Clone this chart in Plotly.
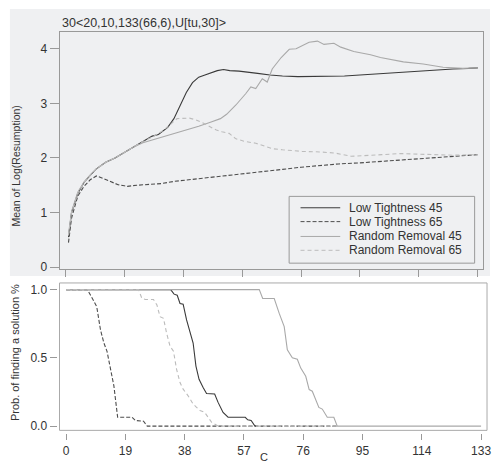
import plotly.graph_objects as go

W, H = 494, 470

# ---------------- data ----------------
title_text = "30<20,10,133(66,6),U[tu,30]>"
series_names = ["Low Tightness 45", "Low Tightness 65", "Random Removal 45", "Random Removal 65"]
x_ticks = [0, 19, 38, 57, 76, 95, 114, 133]

# top panel: Mean of Log(Resumption)
lt45_x = [1, 2, 4, 6, 8, 10, 13, 16, 19, 22, 24, 26, 28, 30, 31, 33, 35, 37, 39, 41, 43, 45, 47, 49, 51, 53,
          56, 58, 62, 66, 70, 75, 80, 85, 90, 95, 100, 105, 110, 115, 120, 125, 130, 133]
lt45_y = [0.55, 1.0, 1.35, 1.55, 1.68, 1.8, 1.92, 2.0, 2.1, 2.2, 2.27, 2.33, 2.4, 2.43, 2.47, 2.56, 2.72, 2.95,
          3.2, 3.38, 3.48, 3.52, 3.56, 3.6, 3.62, 3.6, 3.59, 3.58, 3.55, 3.52, 3.5, 3.49, 3.49, 3.5, 3.5, 3.52,
          3.54, 3.56, 3.58, 3.6, 3.61, 3.63, 3.64, 3.65]

lt65_x = [1, 2, 4, 6, 8, 10, 11, 13, 15, 17, 19, 20, 23, 27, 31, 35, 40, 45, 50, 55, 60, 65, 70, 76, 82, 88,
          95, 100, 106, 112, 118, 124, 129, 133]
lt65_y = [0.45, 0.9, 1.3, 1.48, 1.6, 1.67, 1.65, 1.6, 1.55, 1.51, 1.49, 1.48, 1.5, 1.51, 1.53, 1.57, 1.6, 1.63,
          1.67, 1.7, 1.72, 1.76, 1.79, 1.83, 1.86, 1.89, 1.91, 1.93, 1.95, 1.97, 2.0, 2.02, 2.04, 2.06]

rr45_x = [1, 2, 4, 6, 8, 10, 13, 16, 19, 22, 25, 28, 31, 35, 39, 43, 47, 50, 52, 55, 58.2, 59.8, 61.4, 63.5,
          65.1, 66.7, 69.6, 72.2, 74.4, 77, 78.6, 81.3, 83.4, 86.6, 88.8, 93, 98.4, 101.6, 109, 115.4, 121.8,
          128.2, 133]
rr45_y = [0.6, 1.02, 1.37, 1.56, 1.69, 1.8, 1.92, 2.0, 2.1, 2.2, 2.28, 2.33, 2.38, 2.44, 2.5, 2.58, 2.66,
          2.72, 2.8, 2.97, 3.18, 3.3, 3.27, 3.45, 3.39, 3.63, 3.84, 3.99, 4.0, 4.08, 4.12, 4.14, 4.08, 4.1,
          4.03, 3.95, 3.89, 3.84, 3.76, 3.72, 3.66, 3.64, 3.65]

rr65_x = [1, 2, 4, 6, 8, 10, 13, 16, 19, 22, 25, 28, 31.7, 34, 36, 40, 42, 44.4, 46.5, 48.7, 50.5, 52.8, 55,
          58, 61.4, 64, 66.7, 70, 76.3, 82, 86.9, 92.2, 97, 102, 108, 113, 118.7, 125, 133]
rr65_y = [0.58, 1.0, 1.36, 1.55, 1.68, 1.8, 1.92, 2.0, 2.1, 2.2, 2.3, 2.38, 2.51, 2.62, 2.72, 2.73, 2.7,
          2.64, 2.57, 2.51, 2.48, 2.45, 2.35, 2.3, 2.27, 2.22, 2.17, 2.15, 2.12, 2.11, 2.09, 2.03, 2.04, 2.06,
          2.08, 2.07, 2.06, 2.05, 2.06]

# bottom panel: Prob. of finding a solution
p_lt45_x = [0, 33.5, 34.6, 35.6, 36.5, 37.5, 38.6, 39.7, 40.7, 41.6, 42.6, 43.9, 45, 47.6, 48.7, 50.3, 51.9,
            57.4, 58.2, 59.3, 60.4, 60.9]
p_lt45_y = [1, 1, 0.967, 0.959, 0.899, 0.894, 0.778, 0.681, 0.609, 0.44, 0.343, 0.283, 0.239, 0.235, 0.174,
            0.1, 0.065, 0.065, 0.046, 0.041, 0.005, 0]

p_lt65_x = [0, 6.8, 8.4, 9.8, 11.0, 12.1, 13.1, 14.2, 15.3, 16.5, 21.1, 22.2, 24.8, 26.0, 87]
p_lt65_y = [1, 1, 0.935, 0.875, 0.706, 0.609, 0.548, 0.416, 0.295, 0.065, 0.065, 0.041, 0.036, 0, 0]

p_rr45_x = [0, 61.9, 63, 66.7, 68.3, 69.9, 70.9, 72.5, 74.1, 75.2, 76.8, 77.9, 78.9, 81.0, 82.1, 83.7, 85.8,
            86.9, 133]
p_rr45_y = [1, 1, 0.935, 0.935, 0.826, 0.729, 0.56, 0.5, 0.49, 0.425, 0.365, 0.268, 0.256, 0.137, 0.125,
            0.065, 0.065, 0, 0]

p_rr65_x = [0, 23.2, 24.3, 25.4, 28, 29.1, 30.1, 31.2, 32.2, 33.3, 34.4, 35.4, 36.5, 37.5, 39.1, 40.7, 41.8,
            42.9, 44.4, 46.6, 48.7, 87]
p_rr65_y = [1, 1, 0.935, 0.928, 0.928, 0.887, 0.802, 0.79, 0.681, 0.585, 0.549, 0.416, 0.319, 0.271, 0.222,
            0.162, 0.138, 0.114, 0.101, 0.029, 0, 0]

# ---------------- styles ----------------
FONT = "Liberation Sans, Arial, Helvetica, sans-serif"
styles = [
    dict(color="#3a3a3a", width=1.1, dash="solid"),
    dict(color="#4d4d4d", width=1.1, dash="4px,2px"),
    dict(color="#a9a9a9", width=1.1, dash="solid"),
    dict(color="#bcbcbc", width=1.1, dash="4px,3px"),
]

top_data = [(lt45_x, lt45_y), (lt65_x, lt65_y), (rr45_x, rr45_y), (rr65_x, rr65_y)]
bot_data = [(p_lt45_x, p_lt45_y), (p_lt65_x, p_lt65_y), (p_rr45_x, p_rr45_y), (p_rr65_x, p_rr65_y)]

fig = go.Figure()
for name, (xs, ys), st in zip(series_names, top_data, styles):
    fig.add_trace(go.Scatter(x=xs, y=ys, mode="lines", name=name, line=st,
                             xaxis="x", yaxis="y", showlegend=False))
for name, (xs, ys), st in zip(series_names, bot_data, styles):
    fig.add_trace(go.Scatter(x=xs, y=ys, mode="lines", name=name, line=st,
                             xaxis="x2", yaxis="y2", showlegend=False))

def px(x):
    return x / W

def py(y):
    return 1 - y / H

tickfont = dict(family=FONT, size=12, color="#333333")
axcol = "#999999"

shapes = [
    # grey panel behind the top chart
    dict(type="rect", xref="paper", yref="paper", x0=px(10), x1=1, y0=py(279), y1=py(9),
         fillcolor="#eff0f2", line=dict(width=0), layer="below"),
    # box around the bottom chart
    dict(type="rect", xref="x2 domain", yref="y2 domain", x0=0, x1=1, y0=0, y1=1,
         line=dict(color="#aaaaaa", width=1)),
    # legend box
    dict(type="rect", xref="paper", yref="paper", x0=px(291.5), x1=px(478.5), y0=py(266), y1=py(198.5),
         line=dict(color="#9a9a9a", width=1)),
]
annotations = [
    dict(text=title_text, xref="paper", yref="paper", x=px(60), y=py(23.5), xanchor="left",
         yanchor="middle", showarrow=False, font=dict(family=FONT, size=12.5, color="#333333")),
    dict(text="Mean of Log(Resumption)", xref="paper", yref="paper", x=px(16.5), y=py(168),
         textangle=-90, showarrow=False, xanchor="center", yanchor="middle",
         font=dict(family=FONT, size=10.5, color="#333333")),
    dict(text="Prob. of finding a solution %", xref="paper", yref="paper", x=px(15), y=py(356),
         textangle=-90, showarrow=False, xanchor="center", yanchor="middle",
         font=dict(family=FONT, size=11, color="#333333")),
    dict(text="C", xref="paper", yref="paper", x=px(266.5), y=0, xanchor="center",
         yanchor="bottom", showarrow=False, font=dict(family=FONT, size=11, color="#333333")),
]

# manual legend
leg_y = [210, 224, 239, 253]
for name, st, ly in zip(series_names, styles, leg_y):
    shapes.append(dict(type="line", xref="paper", yref="paper", x0=px(303), x1=px(343), y0=py(ly), y1=py(ly),
                       line=dict(color=st["color"], width=1, dash=st["dash"])))
    annotations.append(dict(text=name, xref="paper", yref="paper", x=px(350), y=py(ly), xanchor="left",
                            yanchor="middle", showarrow=False,
                            font=dict(family=FONT, size=12, color="#333333")))

fig.update_layout(
    width=W, height=H,
    margin=dict(l=0, r=0, t=0, b=0),
    paper_bgcolor="white",
    plot_bgcolor="rgba(0,0,0,0)",
    showlegend=False,
    xaxis=dict(domain=[px(60), px(487.3)], range=[-1.89, 134.79], anchor="y",
               tickvals=x_ticks, showticklabels=False, ticks="outside", ticklen=7, tickcolor=axcol,
               showline=True, linecolor=axcol, mirror=True, showgrid=False, zeroline=False),
    yaxis=dict(domain=[py(271.7), py(32.3)], range=[-0.031, 4.308], anchor="x",
               tickvals=[0, 1, 2, 3, 4], ticks="outside", ticklen=9, tickcolor=axcol, tickfont=tickfont,
               showline=True, linecolor=axcol, mirror=True, showgrid=False, zeroline=False),
    xaxis2=dict(domain=[px(60), px(491)], range=[-2.13, 134.91], anchor="free", position=py(438),
                tickvals=x_ticks, ticks="outside", ticklen=6, tickcolor=axcol, tickfont=tickfont,
                ticklabeloverflow="allow",
                showline=False, showgrid=False, zeroline=False),
    yaxis2=dict(domain=[py(435), py(286)], range=[-0.031, 1.049], anchor="free", position=px(57),
                tickvals=[0, 0.5, 1], ticktext=["0.0", "0.5", "1.0"], ticks="outside", ticklen=7,
                tickcolor=axcol, tickfont=tickfont, showline=False, showgrid=False, zeroline=False),
    shapes=shapes,
    annotations=annotations,
)

fig.write_html("out.html", config={"displayModeBar": False},
               post_script="document.body.style.margin='0';document.body.style.overflow='hidden';")
